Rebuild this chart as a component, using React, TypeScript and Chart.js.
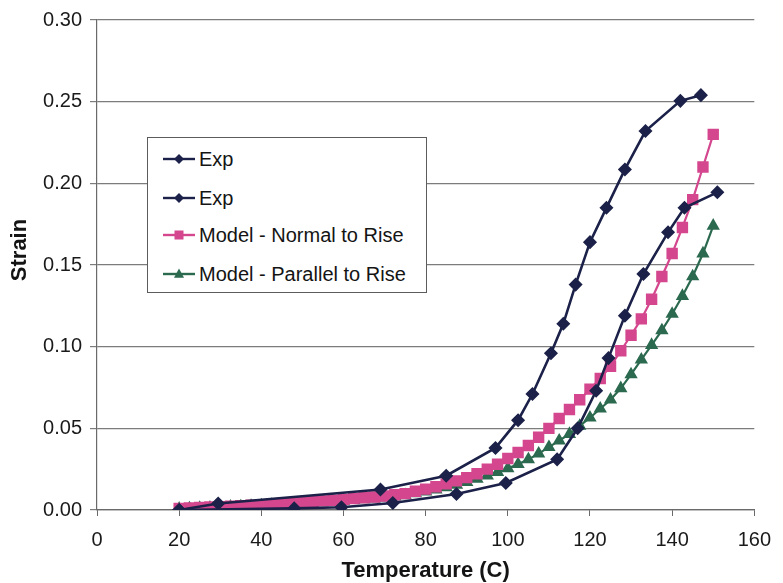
import { useEffect, useRef } from "react";
import { Chart, registerables } from "chart.js";

Chart.register(...registerables);

// Experimental runs (temperature in C, strain)
const expTempA = [20, 29.5, 69, 85, 97, 102.5, 106, 110.5, 113.5, 116.5, 120, 124, 128.5, 133.5, 142, 147];
const expStrainA = [0, 0.004, 0.0125, 0.021, 0.038, 0.055, 0.071, 0.096, 0.114, 0.138, 0.164, 0.185, 0.2085, 0.232, 0.2505, 0.254];

const expTempB = [20, 48, 59.5, 72, 87.5, 99.5, 112, 117, 121.5, 124.5, 128.5, 133, 139, 143, 151];
const expStrainB = [0, 0.001, 0.0017, 0.0043, 0.0098, 0.0165, 0.031, 0.05, 0.073, 0.093, 0.119, 0.1445, 0.17, 0.185, 0.1945];

// Model predictions on a 2.5 C grid
const modelTemps = [
  20, 22.5, 25, 27.5, 30, 32.5, 35, 37.5, 40, 42.5, 45, 47.5, 50, 52.5, 55, 57.5, 60, 62.5,
  65, 67.5, 70, 72.5, 75, 77.5, 80, 82.5, 85, 87.5, 90, 92.5, 95, 97.5, 100, 102.5, 105,
  107.5, 110, 112.5, 115, 117.5, 120, 122.5, 125, 127.5, 130, 132.5, 135, 137.5, 140, 142.5,
  145, 147.5, 150,
];
const normalStrain = [
  0.001, 0.0012, 0.0015, 0.0018, 0.002, 0.0023, 0.0026, 0.003, 0.0033, 0.0037, 0.004, 0.0044,
  0.0048, 0.0052, 0.0056, 0.006, 0.0065, 0.007, 0.0075, 0.008, 0.0086, 0.0093, 0.01, 0.0115,
  0.0128, 0.0142, 0.016, 0.0178, 0.0198, 0.0222, 0.025, 0.028, 0.0315, 0.0352, 0.0395, 0.0445,
  0.05, 0.056, 0.0615, 0.0675, 0.074, 0.0805, 0.088, 0.0975, 0.107, 0.117, 0.129, 0.143, 0.157,
  0.173, 0.19, 0.21, 0.23,
];
const parallelStrain = [
  0.0008, 0.001, 0.0012, 0.0014, 0.0017, 0.002, 0.0022, 0.0025, 0.0028, 0.0031, 0.0034, 0.0037,
  0.004, 0.0044, 0.0048, 0.0052, 0.0056, 0.006, 0.0065, 0.007, 0.0075, 0.0082, 0.009, 0.0101,
  0.0113, 0.0125, 0.0138, 0.0153, 0.017, 0.019, 0.021, 0.0232, 0.0255, 0.028, 0.031, 0.0345,
  0.0385, 0.0425, 0.0465, 0.0515, 0.0565, 0.062, 0.0675, 0.0745, 0.083, 0.092, 0.101, 0.11,
  0.12, 0.131, 0.143, 0.157, 0.174,
];

const seriesLabels = ["Exp", "Exp", "Model - Normal to Rise", "Model - Parallel to Rise"];
const xTitle = "Temperature (C)";
const yTitle = "Strain";

const NAVY = "#1b2148";
const PINK = "#d4478e";
const GREEN = "#2c6a50";
const FONT = '"Liberation Sans", Arial, sans-serif';

const toPoints = (xs: number[], ys: number[]) => xs.map((x, i) => ({ x, y: ys[i] }));

const titlePlugin = {
  id: "axisTitles",
  afterDraw(chart: any) {
    const { ctx, chartArea } = chart;
    ctx.save();
    ctx.fillStyle = "#141414";
    ctx.font = `bold 22px ${FONT}`;
    ctx.textAlign = "center";
    ctx.textBaseline = "middle";
    ctx.fillText(xTitle, (chartArea.left + chartArea.right) / 2, 571);
    ctx.translate(20, 250);
    ctx.rotate(-Math.PI / 2);
    ctx.fillText(yTitle, 0, 0);
    ctx.restore();
  },
};

function LegendMark({ color, shape }: { color: string; shape: string }) {
  let marker;
  if (shape === "diamond") {
    marker = <polygon points="16,2 21,7 16,12 11,7" fill={color} />;
  } else if (shape === "square") {
    marker = <rect x={11.5} y={2.5} width={9} height={9} fill={color} />;
  } else {
    marker = <polygon points="16,1.5 21,10.8 11,10.8" fill={color} />;
  }
  return (
    <svg width={32} height={14} style={{ display: "block" }}>
      <line x1={0} y1={7} x2={32} y2={7} stroke={color} strokeWidth={2.4} />
      {marker}
    </svg>
  );
}

export default function App() {
  const ref = useRef<HTMLCanvasElement>(null);

  useEffect(() => {
    if (!ref.current) return;
    const chart = new Chart(ref.current, {
      type: "line",
      data: {
        datasets: [
          {
            label: seriesLabels[0],
            data: toPoints(expTempA, expStrainA),
            borderColor: NAVY,
            backgroundColor: NAVY,
            borderWidth: 2.6,
            pointStyle: "rectRot",
            pointRadius: 5.2,
            tension: 0,
          },
          {
            label: seriesLabels[1],
            data: toPoints(expTempB, expStrainB),
            borderColor: NAVY,
            backgroundColor: NAVY,
            borderWidth: 2.6,
            pointStyle: "rectRot",
            pointRadius: 5.2,
            tension: 0,
          },
          {
            label: seriesLabels[2],
            data: toPoints(modelTemps, normalStrain),
            borderColor: PINK,
            backgroundColor: PINK,
            borderWidth: 2.2,
            pointStyle: "rect",
            pointRadius: 6.5,
            tension: 0,
          },
          {
            label: seriesLabels[3],
            data: toPoints(modelTemps, parallelStrain),
            borderColor: GREEN,
            backgroundColor: GREEN,
            borderWidth: 2.2,
            pointStyle: "triangle",
            pointRadius: 5.5,
            tension: 0,
          },
        ],
      },
      options: {
        animation: false,
        responsive: false,
        devicePixelRatio: 1,
        layout: { padding: { top: 18, right: 20, left: 0, bottom: 0 } },
        plugins: { legend: { display: false }, tooltip: { enabled: false } },
        scales: {
          x: {
            type: "linear",
            min: 0,
            max: 160,
            ticks: {
              stepSize: 20,
              padding: 12,
              color: "#1a1a1a",
              font: { family: FONT, size: 20 },
            },
            grid: { drawOnChartArea: false, drawTicks: true, tickLength: 6, color: "#6a6a6a" },
            border: { display: true, color: "#6a6a6a", width: 1.2 },
            afterFit: (s: any) => {
              s.height = 73;
            },
          },
          y: {
            min: 0,
            max: 0.3,
            ticks: {
              stepSize: 0.05,
              padding: 8,
              color: "#1a1a1a",
              font: { family: FONT, size: 20 },
              callback: (v: any) => Number(v).toFixed(2),
            },
            grid: { color: "#7c7c7c", tickLength: 7, lineWidth: 1.2 },
            border: { display: true, color: "#6a6a6a", width: 1.2 },
            afterFit: (s: any) => {
              s.width = 97;
            },
          },
        },
      },
      plugins: [titlePlugin],
    });
    return () => chart.destroy();
  }, []);

  const legendRows = [
    { label: seriesLabels[0], color: NAVY, shape: "diamond", y: 21 },
    { label: seriesLabels[1], color: NAVY, shape: "diamond", y: 60 },
    { label: seriesLabels[2], color: PINK, shape: "square", y: 97 },
    { label: seriesLabels[3], color: GREEN, shape: "triangle", y: 136 },
  ];

  return (
    <div
      style={{
        position: "absolute",
        left: 0,
        top: 0,
        width: 783,
        height: 583,
        background: "#ffffff",
        fontFamily: FONT,
      }}
    >
      <canvas ref={ref} width={783} height={583} style={{ display: "block" }} />
      <div
        style={{
          position: "absolute",
          left: 147,
          top: 137,
          width: 280,
          height: 156,
          boxSizing: "border-box",
          border: "1.3px solid #5c5c5c",
          background: "#ffffff",
        }}
      >
        {legendRows.map((r, i) => (
          <div
            key={i}
            style={{
              position: "absolute",
              left: 15,
              top: r.y - 12,
              height: 24,
              display: "flex",
              alignItems: "center",
              whiteSpace: "nowrap",
            }}
          >
            <LegendMark color={r.color} shape={r.shape} />
            <span style={{ marginLeft: 4, fontSize: 20, color: "#141414" }}>{r.label}</span>
          </div>
        ))}
      </div>
    </div>
  );
}
